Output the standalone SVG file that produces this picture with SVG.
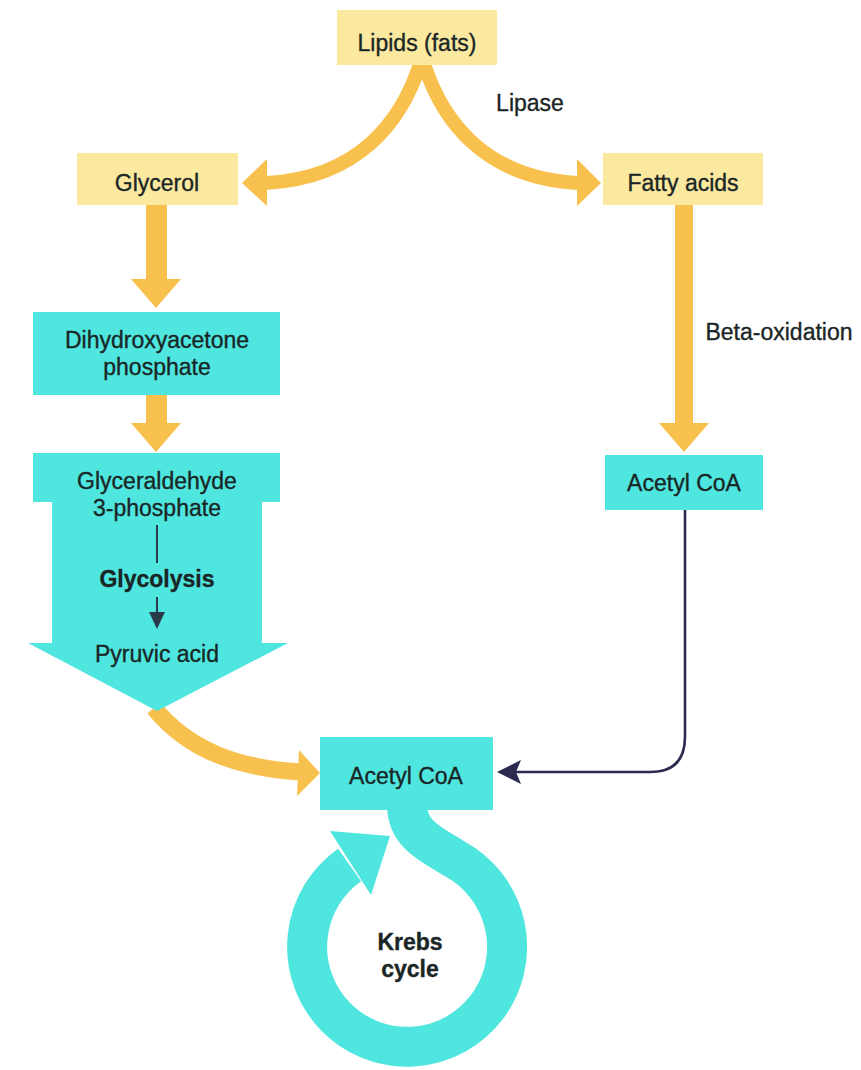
<svg xmlns="http://www.w3.org/2000/svg" width="861" height="1070" viewBox="0 0 861 1070">
<style>
.yb{fill:#fbe9a0}
.cb{fill:#4ee6df}
.ya{fill:none;stroke:#f8c14e}
.yh{fill:#f8c14e}
.t{font-family:"Liberation Sans",Arial,sans-serif;font-size:23px;fill:#1a2626;stroke:#1a2626;stroke-width:0.35;text-anchor:middle}
.b{font-weight:bold}
</style>
<rect width="861" height="1070" fill="#ffffff"/>
<g id="connectors">
  <path class="ya" stroke-width="14" d="M420 64 C402 120 360 178 266 183"/>
  <polygon class="yh" points="242,183 267,159 267,206"/>
  <path class="ya" stroke-width="14" d="M424 64 C442 120 484 178 578 183"/>
  <polygon class="yh" points="601,183 577,159 577,206"/>
  <rect class="yh" x="146" y="204" width="21" height="77"/>
  <polygon class="yh" points="131,279 181,279 156,308"/>
  <rect class="yh" x="146" y="394" width="21" height="31"/>
  <polygon class="yh" points="131,423 181,423 156,452"/>
  <rect class="yh" x="675" y="204" width="18" height="221"/>
  <polygon class="yh" points="659,423 709,423 684,452"/>
  <path class="ya" stroke-width="17" d="M154 708 C190 752 240 768 300 772"/>
  <polygon class="yh" points="320,773 299,750 297,796"/>
  <path fill="none" stroke="#2b2b4f" stroke-width="2.6" d="M685 510 L685 737 Q685 772 650 772 L514 772"/>
  <polygon fill="#2b2b4f" points="497,772 521,760 516,772 521,784"/>
</g>
<g id="lipids">
  <rect class="yb" x="337" y="10" width="160" height="55"/>
  <text class="t" x="417" y="51">Lipids (fats)</text>
</g>
<g id="lipase-label">
  <text class="t" x="530" y="111">Lipase</text>
</g>
<g id="glycerol">
  <rect class="yb" x="77" y="153" width="161" height="52"/>
  <text class="t" x="157" y="191">Glycerol</text>
</g>
<g id="fatty-acids">
  <rect class="yb" x="603" y="153" width="160" height="52"/>
  <text class="t" x="683" y="191">Fatty acids</text>
</g>
<g id="beta-label">
  <text class="t" x="779" y="340">Beta-oxidation</text>
</g>
<g id="dhap">
  <rect class="cb" x="33" y="312" width="247" height="83"/>
  <text class="t" x="157" y="348">Dihydroxyacetone</text>
  <text class="t" x="157" y="375">phosphate</text>
</g>
<g id="glycolysis">
  <polygon class="cb" points="33,453 280,453 280,502 262,502 262,643 288,643 157,711 28,643 52,643 52,502 33,502"/>
  <text class="t" x="157" y="489">Glyceraldehyde</text>
  <text class="t" x="157" y="516">3-phosphate</text>
  <line x1="157" y1="525" x2="157" y2="563" stroke="#2b3a4a" stroke-width="2"/>
  <text class="t b" x="157" y="587">Glycolysis</text>
  <line x1="157" y1="597" x2="157" y2="614" stroke="#2b3a4a" stroke-width="2"/>
  <polygon fill="#2b3a4a" points="149,612 165,612 157,629"/>
  <text class="t" x="157" y="662">Pyruvic acid</text>
</g>
<g id="acetyl-right">
  <rect class="cb" x="605" y="455" width="158" height="55"/>
  <text class="t" x="684" y="491">Acetyl CoA</text>
</g>
<g id="krebs">
  <path fill="none" stroke="#4ee6df" stroke-width="40" d="M407 805 C407 836 435 846 455 859 A100 100 0 1 1 349.6 865"/>
  <polygon fill="#4ee6df" points="390,836 371,895 330,831"/>
  <text class="t b" x="410" y="950">Krebs</text>
  <text class="t b" x="410" y="977">cycle</text>
</g>
<g id="acetyl-bottom">
  <rect class="cb" x="320" y="737" width="173" height="73"/>
  <text class="t" x="406" y="784">Acetyl CoA</text>
</g>
</svg>
